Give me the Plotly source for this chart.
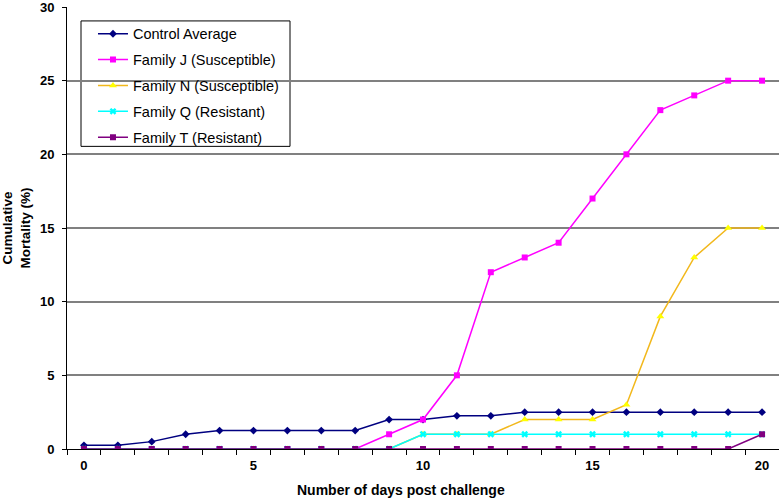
import plotly.graph_objects as go

days = list(range(21))
control = [0.25, 0.25, 0.5, 1, 1.25, 1.25, 1.25, 1.25, 1.25, 2, 2, 2.25, 2.25, 2.5, 2.5, 2.5, 2.5, 2.5, 2.5, 2.5, 2.5]
family_j = [0, 0, 0, 0, 0, 0, 0, 0, 0, 1, 2, 5, 12, 13, 14, 17, 20, 23, 24, 25, 25]
family_n = [0, 0, 0, 0, 0, 0, 0, 0, 0, 0, 1, 1, 1, 2, 2, 2, 3, 9, 13, 15, 15]
family_q = [0, 0, 0, 0, 0, 0, 0, 0, 0, 0, 1, 1, 1, 1, 1, 1, 1, 1, 1, 1, 1]
family_t = [0, 0, 0, 0, 0, 0, 0, 0, 0, 0, 0, 0, 0, 0, 0, 0, 0, 0, 0, 0, 1]
x_ticks = [0, 5, 10, 15, 20]
y_ticks = [0, 5, 10, 15, 20, 25, 30]

series = [
    ("Control Average", control, "#000080", "#000080", "diamond", 6),
    ("Family J (Susceptible)", family_j, "#FF00FF", "#FF00FF", "square", 6),
    ("Family N (Susceptible)", family_n, "#F2B81C", "#FFFF00", "triangle-up", 7),
    ("Family Q (Resistant)", family_q, "#00FFFF", "#00FFFF", "x", 6),
    ("Family T (Resistant)", family_t, "#800080", "#800080", "square", 6),
]

fig = go.Figure()
for i, (name, vals, lc, mc, sym, ms) in enumerate(series):
    fig.add_trace(go.Scatter(
        x=days, y=vals, name=name, mode="lines+markers",
        legendgroup=f"g{i}",
        line=dict(color=lc, width=1.5),
        marker=dict(color=mc, symbol=sym, size=ms, line=dict(width=0)),
    ))

font = "Liberation Sans, Arial, sans-serif"
fig.update_layout(
    width=779, height=498,
    margin=dict(l=67, r=0, t=5, b=49),
    plot_bgcolor="white", paper_bgcolor="white",
    font=dict(family=font, size=13, color="black"),
    showlegend=True,
    legend=dict(
        x=0.0365, y=0.9755, xanchor="left", yanchor="top",
        bgcolor="rgba(0,0,0,0)", borderwidth=0,
        font=dict(family=font, size=14.5, color="black"),
        traceorder="grouped", tracegroupgap=4,
    ),
    shapes=[dict(
        type="rect", xref="paper", yref="paper",
        x0=(81 - 67) / 712, x1=(290 - 67) / 712,
        y0=1 - (145 - 5) / 444, y1=1 - (19 - 5) / 444,
        line=dict(color="black", width=1), fillcolor="white", layer="between",
    )],
    xaxis=dict(
        range=[-0.5, 20.5], tickvals=x_ticks,
        ticks="outside", ticklen=0, showgrid=False, zeroline=False,
        showline=True, linecolor="black", linewidth=1, ticklabelstandoff=4,
        tickfont=dict(family=font, size=13, weight="bold"),
        minor=dict(tick0=-0.5, dtick=1, ticks="outside", ticklen=5, tickcolor="black", showgrid=False),
    ),
    yaxis=dict(
        range=[0, 30], tickvals=y_ticks,
        ticks="outside", ticklen=4, tickcolor="black", ticklabelstandoff=5,
        ticklabeloverflow="allow",
        showgrid=True, gridcolor="#808080", gridwidth=1.5, zeroline=False,
        showline=True, linecolor="black", linewidth=1,
        tickfont=dict(family=font, size=13, weight="bold"),
        title=dict(text="Cumulative<br>Mortality (%)", font=dict(family=font, size=13.5, weight="bold"), standoff=13),
    ),
    annotations=[dict(
        text="Number of days post challenge", xref="paper", yref="paper",
        x=(401 - 67) / 712, y=1 - (490 - 5) / 444, xanchor="center", yanchor="middle",
        showarrow=False, font=dict(family=font, size=14, weight="bold"),
    )],
)

fig.write_html("out.html", config={"displayModeBar": False},
               post_script="document.body.style.margin='0';")
